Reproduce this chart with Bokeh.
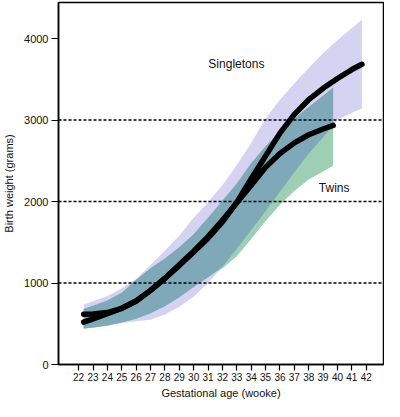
import numpy as np
from bokeh.plotting import figure
from bokeh.models import Range1d, FixedTicker, Span
from bokeh.core.properties import value
from bokeh.embed import file_html
from bokeh.resources import INLINE

# ---- data ----
week_ticks = list(range(22, 43))
weight_ticks = [0, 1000, 2000, 3000, 4000]
ref_weights = [1000, 2000, 3000]

s_weeks = [22.35, 23, 24, 25, 26, 27, 28, 29, 30, 31, 32, 33, 34, 35, 36, 37, 38, 39, 40, 41, 41.7]
s_upper = [735, 775, 840, 935, 1050, 1220, 1400, 1580, 1800, 1990, 2200, 2450, 2720, 3020, 3250, 3450, 3640, 3820, 3980, 4130, 4230]
s_lower = [440, 452, 476, 510, 530, 550, 615, 710, 830, 1000, 1200, 1420, 1650, 1880, 2120, 2360, 2590, 2790, 3000, 3090, 3140]
s_mean = [520, 560, 625, 690, 780, 910, 1055, 1215, 1380, 1550, 1750, 1990, 2280, 2560, 2840, 3070, 3250, 3390, 3510, 3620, 3685]

t_weeks = [22.35, 23, 24, 25, 26, 27, 28, 29, 30, 31, 32, 33, 34, 35, 36, 37, 38, 39, 39.7]
t_upper = [680, 720, 785, 880, 1040, 1180, 1300, 1440, 1600, 1800, 2010, 2220, 2470, 2680, 2860, 3020, 3160, 3300, 3400]
t_lower = [442, 455, 478, 515, 560, 630, 715, 825, 950, 1070, 1180, 1330, 1540, 1760, 1960, 2130, 2270, 2370, 2440]
t_mean = [617, 620, 637, 690, 780, 910, 1060, 1225, 1390, 1570, 1770, 1985, 2200, 2420, 2590, 2720, 2820, 2890, 2934]

labels = ["Singletons", "Twins"]
label_weeks = [32.97, 39.77]
label_weights = [3693, 2161]

# ---- colours ----
LAV = "#d6d2f2"
GRN = "#9ecfb5"
TEAL = "#7fa9b9"
FONT = "Liberation Sans"

# overlap of the two bands (computed from the data)
s_up_t = np.interp(t_weeks, s_weeks, s_upper)
s_lo_t = np.interp(t_weeks, s_weeks, s_lower)
ov_upper = np.minimum(s_up_t, np.array(t_upper))
ov_lower = np.maximum(s_lo_t, np.array(t_lower))

p = figure(width=384, height=401, output_backend="svg", toolbar_location=None,
           x_range=Range1d(20.6, 43.2), y_range=Range1d(0, 4443),
           min_border_top=2, min_border_right=1, min_border_left=10, min_border_bottom=2)

p.varea(x=s_weeks, y1=s_lower, y2=s_upper, fill_color=LAV, fill_alpha=1)
p.varea(x=t_weeks, y1=t_lower, y2=t_upper, fill_color=GRN, fill_alpha=1)
p.varea(x=t_weeks, y1=ov_lower, y2=ov_upper, fill_color=TEAL, fill_alpha=1)

for w in ref_weights:
    p.add_layout(Span(location=w, dimension="width", line_color="black",
                      line_width=1.5, line_dash="3 2"))

p.line(s_weeks, s_mean, line_color="black", line_width=5.5, line_cap="round", line_join="round")
p.line(t_weeks, t_mean, line_color="black", line_width=5.5, line_cap="round", line_join="round")

p.text(x=label_weeks, y=label_weights, text=labels, text_font=value(FONT),
       text_font_size="12px", text_align="center", text_baseline="middle",
       text_color="#111111")

p.grid.visible = False
p.outline_line_color = "black"
p.outline_line_width = 1.5
p.outline_line_alpha = 1
p.background_fill_color = "white"
p.border_fill_color = "white"

for ax in (p.xaxis[0], p.yaxis[0]):
    ax.axis_label_text_font = FONT
    ax.axis_label_text_font_size = "11px"
    ax.axis_label_text_font_style = "normal"
    ax.axis_label_text_color = "#111111"
    ax.major_label_text_font = FONT
    ax.major_label_text_color = "#111111"
    ax.major_tick_in = 0
    ax.minor_tick_out = 0
    ax.minor_tick_in = 0
    ax.axis_line_width = 1.5
    ax.axis_line_color = "black"
    ax.major_tick_line_color = "black"
    ax.major_tick_line_width = 1.2

xa = p.xaxis[0]
xa.ticker = FixedTicker(ticks=week_ticks)
xa.axis_label = "Gestational age (wooke)"
xa.axis_label_standoff = 3
xa.major_label_text_font_size = "10px"
xa.major_label_standoff = 2
xa.major_tick_out = 6

ya = p.yaxis[0]
ya.ticker = FixedTicker(ticks=weight_ticks)
ya.axis_label = "Birth weight (grams)"
ya.axis_label_standoff = 6
ya.major_label_text_font_size = "11px"
ya.major_label_standoff = 3
ya.major_label_orientation = "horizontal"
ya.major_tick_out = 7

open("out.html", "w").write(file_html(p, INLINE))
